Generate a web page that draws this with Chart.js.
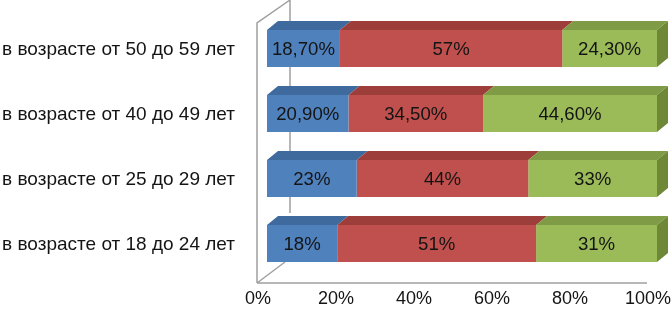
<!DOCTYPE html>
<html>
<head>
<meta charset="utf-8">
<script src="https://cdn.jsdelivr.net/npm/chart.js@4.4.1/dist/chart.umd.min.js"></script>
<style>
  html, body { margin: 0; padding: 0; background: #fff; }
  #wrap { width: 671px; height: 312px; position: relative; }
</style>
</head>
<body>
<div id="wrap"><canvas id="chart"></canvas></div>
<script>
// Данные диаграммы
const ageGroups = [
    "в возрасте от 50 до 59 лет",
    "в возрасте от 40 до 49 лет",
    "в возрасте от 25 до 29 лет",
    "в возрасте от 18 до 24 лет"
];
const blueValues = [18.7, 20.9, 23, 18];
const redValues = [57, 34.5, 44, 51];
const greenValues = [24.3, 44.6, 33, 31];
const xTicks = [0, 20, 40, 60, 80, 100];

const fontFamily = "'Liberation Sans', Arial, sans-serif";
const textColor = "#141414";

// смещение глубины 3D
const DX = 11, DY = -9;

function fmt(v) {
    return Number.isInteger(v) ? v + "%" : v.toFixed(2).replace(".", ",") + "%";
}

const faceColors = ["#4F81BD", "#C0504D", "#9BBB59"];
const topColors = ["#3E6A9E", "#9E3E3B", "#7F9B45"];
const sideColor = "#6E8838";

const threeD = {
    id: "threeD",
    beforeDatasetsDraw(chart) {
        const ctx = chart.ctx;
        const x = chart.scales.x;
        const y = chart.scales.y;
        const area = chart.chartArea;
        const left = x.getPixelForValue(0) - 10;
        const right = x.getPixelForValue(100) - 10;
        const floorY = area.bottom + 7;
        const wallTop = area.top + 7;
        ctx.save();
        ctx.strokeStyle = "#A0A0A0";
        ctx.lineWidth = 1.5;
        ctx.beginPath();
        // левая стенка
        ctx.moveTo(left, floorY);
        ctx.lineTo(left, wallTop);
        ctx.lineTo(left + 33, wallTop - 23);
        // задняя вертикаль
        ctx.moveTo(left + 33, wallTop - 23);
        ctx.lineTo(left + 33, floorY - 70);
        // пол
        ctx.moveTo(left, floorY);
        ctx.lineTo(right, floorY);
        ctx.moveTo(left, floorY);
        ctx.lineTo(left + 28, floorY - 21);
        ctx.stroke();

        // подписи осей
        ctx.fillStyle = textColor;
        ctx.font = "19px " + fontFamily;
        ctx.textAlign = "right";
        ctx.textBaseline = "middle";
        ageGroups.forEach((lab, i) => {
            ctx.fillText(lab, area.left - 32, y.getPixelForValue(i) + 1);
        });
        ctx.font = "18px " + fontFamily;
        ctx.textAlign = "center";
        xTicks.forEach(v => {
            ctx.fillText(v + "%", x.getPixelForValue(v) - 9, floorY + 16);
        });
        ctx.restore();
    },
    afterDatasetsDraw(chart) {
        const ctx = chart.ctx;
        ctx.save();
        chart.data.datasets.forEach((ds, di) => {
            const meta = chart.getDatasetMeta(di);
            meta.data.forEach((bar) => {
                const p = bar.getProps(["x", "y", "base", "height"], true);
                const x0 = Math.min(p.x, p.base), x1 = Math.max(p.x, p.base);
                const top = p.y - p.height / 2, bottom = p.y + p.height / 2;
                ctx.fillStyle = topColors[di];
                ctx.beginPath();
                ctx.moveTo(x0, top);
                ctx.lineTo(x0 + DX, top + DY);
                ctx.lineTo(x1 + DX, top + DY);
                ctx.lineTo(x1, top);
                ctx.closePath();
                ctx.fill();
                if (di === chart.data.datasets.length - 1) {
                    ctx.fillStyle = sideColor;
                    ctx.beginPath();
                    ctx.moveTo(x1, top);
                    ctx.lineTo(x1 + DX, top + DY);
                    ctx.lineTo(x1 + DX, bottom + DY);
                    ctx.lineTo(x1, bottom);
                    ctx.closePath();
                    ctx.fill();
                }
            });
        });
        // подписи значений
        ctx.fillStyle = textColor;
        ctx.font = "18.6px " + fontFamily;
        ctx.textAlign = "center";
        ctx.textBaseline = "middle";
        chart.data.datasets.forEach((ds, di) => {
            const meta = chart.getDatasetMeta(di);
            meta.data.forEach((bar, i) => {
                const p = bar.getProps(["x", "y", "base"], true);
                ctx.fillText(fmt(ds.data[i]), (p.x + p.base) / 2, p.y + 1);
            });
        });
        ctx.restore();
    }
};

new Chart(document.getElementById("chart"), {
    type: "bar",
    data: {
        labels: ageGroups,
        datasets: [
            { data: blueValues, backgroundColor: faceColors[0] },
            { data: redValues, backgroundColor: faceColors[1] },
            { data: greenValues, backgroundColor: faceColors[2] }
        ]
    },
    options: {
        indexAxis: "y",
        responsive: true,
        maintainAspectRatio: false,
        animation: false,
        layout: { padding: { top: 16, right: 14, bottom: 36, left: 267 } },
        datasets: {
            bar: { categoryPercentage: 1, barPercentage: 0.57, borderWidth: 0 }
        },
        plugins: { legend: { display: false }, tooltip: { enabled: false } },
        scales: {
            x: { stacked: true, min: 0, max: 100, display: false },
            y: { stacked: true, display: false }
        }
    },
    plugins: [threeD]
});
</script>
</body>
</html>
